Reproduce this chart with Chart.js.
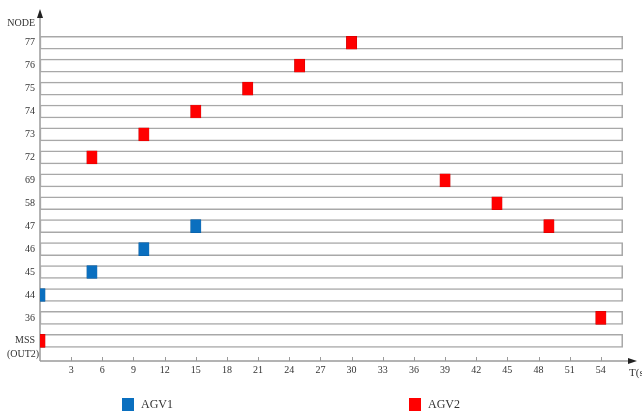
<!DOCTYPE html>
<html>
<head>
<meta charset="utf-8">
<script src="https://cdn.jsdelivr.net/npm/chart.js@4/dist/chart.umd.min.js"></script>
<style>
  html, body { margin: 0; padding: 0; background: #fff; }
  #wrap { width: 642px; height: 416px; }
</style>
</head>
<body>
<div id="wrap"><canvas id="c" width="642" height="416"></canvas></div>
<script>
// Node rows, bottom to top
const nodeLabels = ['MSS', '36', '44', '45', '46', '47', '58', '69', '72', '73', '74', '75', '76', '77'];
const nodeSubLabel = '(OUT2)';
// Time axis tick labels (s)
const xTicks = [3, 6, 9, 12, 15, 18, 21, 24, 27, 30, 33, 36, 39, 42, 45, 48, 51, 54];

// Node occupied by each AGV and the time (s) it is there
const agv1Nodes = ['44', '45', '46', '47'];
const agv1Times = [0, 5, 10, 15];
const agv2Nodes = ['MSS', '72', '73', '74', '75', '76', '77', '69', '58', '47', '36'];
const agv2Times = [0, 5, 10, 15, 20, 25, 30, 39, 44, 49, 54];

const TRACK_END = 56.1;   // right end of each node's track (s)
const SLOT = 1;           // width of one occupancy mark (s)
const FONT = '"Liberation Serif", "Times New Roman", serif';
const TEXT = '#333';
const AXIS = '#9a9a9a';

const marks = (nodes, times) => nodes.map((n, i) => ({
  x: [times[i] - SLOT / 2, times[i] + SLOT / 2],
  y: nodeLabels.indexOf(n)
}));

const tracks = nodeLabels.map((_, i) => ({ x: [0, TRACK_END], y: i }));

const decor = {
  id: 'decor',
  beforeDatasetsDraw(chart) {
    const { ctx, chartArea: a, scales: { x } } = chart;
    ctx.save();
    ctx.strokeStyle = AXIS;
    ctx.fillStyle = '#222';
    ctx.lineWidth = 1.5;
    // y axis with arrow
    ctx.beginPath();
    ctx.moveTo(a.left, a.bottom);
    ctx.lineTo(a.left, a.top + 4);
    ctx.stroke();
    ctx.beginPath();
    ctx.moveTo(a.left, a.top - 3);
    ctx.lineTo(a.left - 3, a.top + 6);
    ctx.lineTo(a.left + 3, a.top + 6);
    ctx.closePath();
    ctx.fill();
    // x axis with arrow
    ctx.beginPath();
    ctx.moveTo(a.left, a.bottom);
    ctx.lineTo(a.right - 2, a.bottom);
    ctx.stroke();
    ctx.beginPath();
    ctx.moveTo(a.right + 5, a.bottom);
    ctx.lineTo(a.right - 4, a.bottom - 3);
    ctx.lineTo(a.right - 4, a.bottom + 3);
    ctx.closePath();
    ctx.fill();
    // inward tick marks on the time axis
    ctx.lineWidth = 1;
    ctx.beginPath();
    xTicks.forEach(v => {
      const px = Math.round(x.getPixelForValue(v)) + 0.5;
      ctx.moveTo(px, a.bottom);
      ctx.lineTo(px, a.bottom - 4);
    });
    ctx.stroke();
    ctx.restore();
  },
  afterDraw(chart) {
    const { ctx, chartArea: a, scales: { y } } = chart;
    ctx.save();
    ctx.fillStyle = TEXT;
    ctx.textBaseline = 'middle';
    ctx.font = '10px ' + FONT;
    ctx.textAlign = 'right';
    ctx.fillText('NODE', 35, 23);
    ctx.textAlign = 'center';
    ctx.fillText(nodeSubLabel, 23, y.getPixelForValue(0) + 14);
    ctx.textAlign = 'left';
    ctx.font = '11px ' + FONT;
    ctx.fillText('T(s)', a.right - 3, a.bottom + 12);
    // legend
    const items = chart.data.datasets.filter(d => d.label);
    const pos = [122, 409];
    ctx.font = '12px ' + FONT;
    items.forEach((d, i) => {
      ctx.fillStyle = d.backgroundColor;
      ctx.fillRect(pos[i], 398, 12, 13);
      ctx.fillStyle = TEXT;
      ctx.fillText(d.label, pos[i] + 19, 405);
    });
    ctx.restore();
  }
};

new Chart(document.getElementById('c'), {
  type: 'bar',
  data: {
    datasets: [
      {
        label: 'AGV1', data: marks(agv1Nodes, agv1Times),
        backgroundColor: '#0a6fbf', borderColor: '#0a5a9a', borderWidth: 0.5,
        barThickness: 13, grouped: false, borderSkipped: false, order: 0
      },
      {
        label: 'AGV2', data: marks(agv2Nodes, agv2Times),
        backgroundColor: '#ff0000', borderColor: '#c00000', borderWidth: 0.5,
        barThickness: 13, grouped: false, borderSkipped: false, order: 0
      },
      {
        label: '', data: tracks,
        backgroundColor: '#ffffff', borderColor: '#a8a8a8', borderWidth: 1.5,
        barThickness: 13, grouped: false, borderSkipped: false, order: 5
      }
    ]
  },
  options: {
    indexAxis: 'y',
    responsive: false,
    animation: false,
    devicePixelRatio: 1,
    layout: { padding: { top: 12, right: 10, left: 0, bottom: 0 } },
    plugins: { legend: { display: false }, tooltip: { enabled: false } },
    scales: {
      x: {
        type: 'linear', min: 0, max: 57, offset: false,
        grid: { display: false, drawTicks: false },
        border: { display: false },
        ticks: { font: { family: FONT, size: 10 }, color: TEXT, padding: 3, maxRotation: 0, autoSkip: false },
        afterBuildTicks: s => { s.ticks = xTicks.map(v => ({ value: v })); },
        afterFit: s => { s.height = 55; }
      },
      y: {
        type: 'linear', min: -0.88, max: 14.34, offset: false,
        grid: { display: false, drawTicks: false, offset: false },
        border: { display: false },
        ticks: {
          font: { family: FONT, size: 10 }, color: TEXT, padding: 5, autoSkip: false,
          callback: v => nodeLabels[v]
        },
        afterBuildTicks: s => { s.ticks = nodeLabels.map((_, i) => ({ value: i })); },
        afterFit: s => { s.width = 40; }
      }
    }
  },
  plugins: [decor]
});
</script>
</body>
</html>
